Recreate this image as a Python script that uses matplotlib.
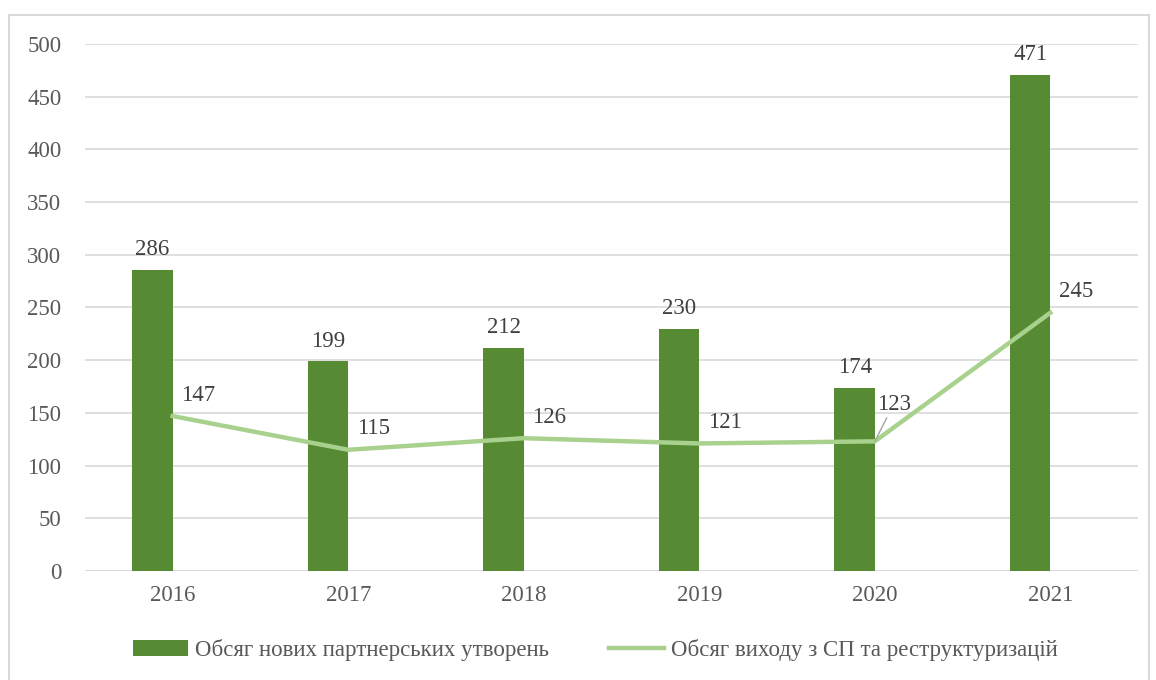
import numpy as np
import matplotlib.pyplot as plt
from matplotlib.patches import Rectangle

years = ['2016', '2017', '2018', '2019', '2020', '2021']
new_partnerships = [286, 199, 212, 230, 174, 471]
exits_restructuring = [147, 115, 126, 121, 123, 245]

bar_color = '#568B34'
line_color = '#A9D18E'
text_color = '#595959'
fs = 16.5

plt.rcParams['font.family'] = ['Liberation Serif', 'DejaVu Serif']

fig = plt.figure(figsize=(11.56, 6.80), dpi=100)
ax = fig.add_axes([0.0735, 0.1603, 0.911, 0.775])

x = np.arange(len(years))
width = 0.23

# bars sit to the left of each category centre, the line runs through the centre
bars = ax.bar(x - width / 2, new_partnerships, width, color=bar_color,
              label='Обсяг нових партнерських утворень', zorder=2)
line, = ax.plot(x, exits_restructuring, color=line_color, lw=3.2,
                label='Обсяг виходу з СП та реструктуризацій', zorder=3)

for xi, v in zip(x, new_partnerships):
    ax.text(xi - width / 2, v + 9, str(v), ha='center', va='bottom',
            fontsize=fs, color='#404040')

for xi, v in zip(x, exits_restructuring):
    if v == 123:
        ax.annotate(str(v), xy=(xi, v), xytext=(xi + 0.01, v + 25),
                    ha='left', va='bottom', fontsize=fs, color='#404040',
                    arrowprops=dict(arrowstyle='-', color='#A6A6A6', lw=1,
                                    shrinkA=0, shrinkB=0))
    else:
        ax.text(xi + 0.05, v + 10, str(v), ha='left', va='bottom',
                fontsize=fs, color='#404040')

ax.set_xlim(-0.5, len(years) - 0.5)
ax.set_ylim(0, 500)
ax.set_yticks(range(0, 501, 50))
ax.set_xticks(x)
ax.set_xticklabels(years)
ax.tick_params(axis='both', length=0, labelsize=fs, colors=text_color)
ax.tick_params(axis='y', pad=17)
ax.tick_params(axis='x', pad=10)
ax.grid(axis='y', color='#D9D9D9', lw=1.2, zorder=0)
ax.set_axisbelow(True)
for s in ax.spines.values():
    s.set_visible(False)
ax.axhline(0, color='#D9D9D9', lw=1.2, zorder=1)

fig.legend(handles=[bars, line], loc='center', bbox_to_anchor=(0.515, 0.044),
           ncol=2, frameon=False, fontsize=fs, handlelength=2.4,
           handletextpad=0.3, columnspacing=2.6, labelcolor=text_color)

# outer chart frame
fig.patches.append(Rectangle((9 / 1156, -0.05), 1140 / 1156, 1.05 - 15 / 680,
                             transform=fig.transFigure, fill=False,
                             edgecolor='#D9D9D9', lw=1.5))

fig.savefig('out.png', dpi=100)
